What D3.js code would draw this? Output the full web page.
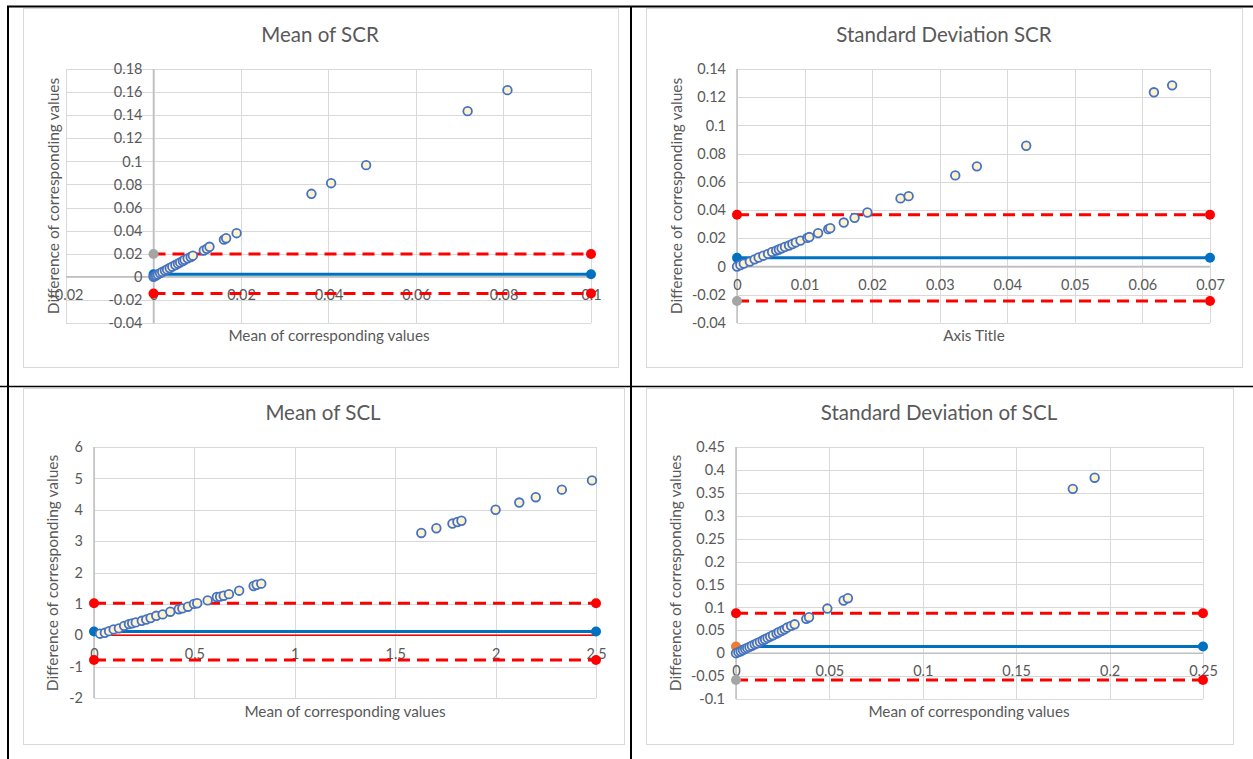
<!DOCTYPE html>
<html>
<head>
<meta charset="utf-8">
<script src="https://cdn.jsdelivr.net/npm/d3@7/dist/d3.min.js"></script>
<style>
  body { margin: 0; background: #fff; }
  svg text { font-family: Lato, "Open Sans", sans-serif; fill: #595959; }
</style>
</head>
<body>
<svg id="chart" width="1253" height="759"></svg>
<script>
// ---------------- data ----------------
const chartTitles = ["Mean of SCR", "Standard Deviation SCR", "Mean of SCL", "Standard Deviation of SCL"];
const xAxisTitles = ["Mean of corresponding values", "Axis Title", "Mean of corresponding values", "Mean of corresponding values"];
const yAxisTitle = "Difference of corresponding values";

// Mean of SCR
const scrMeanX = [0, 0.0003, 0.0006, 0.001, 0.0015, 0.002, 0.0026, 0.0031, 0.0037, 0.0043, 0.005, 0.0056, 0.0061,
  0.0067, 0.0071, 0.0078, 0.0085, 0.009, 0.0115, 0.0122, 0.0128, 0.0161, 0.0166, 0.019, 0.0361, 0.0406, 0.0486, 0.0718, 0.0809];
const scrMeanY = [0, 0.0006, 0.0013, 0.0021, 0.0032, 0.0042, 0.0054, 0.0064, 0.0076, 0.0088, 0.0102, 0.0114, 0.0125,
  0.0137, 0.0147, 0.016, 0.0172, 0.0183, 0.0228, 0.0243, 0.026, 0.0322, 0.0334, 0.0378, 0.0719, 0.0811, 0.0967, 0.1435, 0.1617];
const scrMeanLimits = [-0.0144, 0.0023, 0.0197];   // lower limit, mean difference, upper limit
const scrMeanXTicks = [-0.02, 0, 0.02, 0.04, 0.06, 0.08, 0.1];
const scrMeanYTicks = [-0.04, -0.02, 0, 0.02, 0.04, 0.06, 0.08, 0.1, 0.12, 0.14, 0.16, 0.18];

// Standard deviation of SCR
const scrSdX = [0, 0.0005, 0.001, 0.0019, 0.0026, 0.0032, 0.0039, 0.0046, 0.0052, 0.0058, 0.0062, 0.0066, 0.0071,
  0.0077, 0.0082, 0.0087, 0.0094, 0.0104, 0.0107, 0.012, 0.0135, 0.0138, 0.0158, 0.0174, 0.0193, 0.0242, 0.0254,
  0.0323, 0.0355, 0.0428, 0.0617, 0.0644];
const scrSdY = [0, 0.0011, 0.0021, 0.0035, 0.0051, 0.0064, 0.0077, 0.009, 0.0103, 0.0113, 0.0121, 0.0129, 0.0139,
  0.0149, 0.016, 0.0171, 0.0184, 0.0203, 0.0209, 0.0237, 0.0265, 0.0272, 0.0312, 0.0345, 0.0383, 0.0483, 0.0499,
  0.0646, 0.071, 0.0856, 0.1235, 0.1284];
const scrSdLimits = [-0.0244, 0.0062, 0.0367];
const scrSdXTicks = [0, 0.01, 0.02, 0.03, 0.04, 0.05, 0.06, 0.07];
const scrSdYTicks = [-0.04, -0.02, 0, 0.02, 0.04, 0.06, 0.08, 0.1, 0.12, 0.14];

// Mean of SCL
const sclMeanX = [0.03, 0.054, 0.075, 0.098, 0.124, 0.15, 0.174, 0.19, 0.208, 0.238, 0.26, 0.282, 0.31, 0.342, 0.38,
  0.422, 0.44, 0.468, 0.498, 0.514, 0.566, 0.612, 0.628, 0.646, 0.672, 0.723, 0.795, 0.81, 0.833,
  1.63, 1.705, 1.785, 1.81, 1.83, 2.0, 2.118, 2.2, 2.33, 2.48];
const sclMeanY = [0.05, 0.078, 0.13, 0.186, 0.22, 0.3, 0.355, 0.38, 0.41, 0.46, 0.5, 0.55, 0.62, 0.665, 0.75,
  0.83, 0.855, 0.91, 1.0, 1.02, 1.11, 1.22, 1.23, 1.26, 1.31, 1.42, 1.57, 1.61, 1.644,
  3.26, 3.41, 3.56, 3.61, 3.65, 4.0, 4.23, 4.4, 4.64, 4.935];
const sclMeanLimits = [-0.79, 0.12, 1.02];
const sclMeanXTicks = [0, 0.5, 1, 1.5, 2, 2.5];
const sclMeanYTicks = [-2, -1, 0, 1, 2, 3, 4, 5, 6];

// Standard deviation of SCL
const sclSdX = [0, 0.0013, 0.0025, 0.0037, 0.0049, 0.006, 0.0072, 0.0085, 0.01, 0.0113, 0.0128, 0.0143, 0.0155,
  0.0169, 0.0183, 0.0198, 0.0217, 0.0229, 0.0245, 0.026, 0.0274, 0.0295, 0.0314, 0.0376, 0.0391, 0.0489, 0.0576,
  0.0599, 0.1803, 0.192];
const sclSdY = [0, 0.0022, 0.0042, 0.0068, 0.0093, 0.0115, 0.0137, 0.0163, 0.0193, 0.0217, 0.0247, 0.0277, 0.0304,
  0.0333, 0.0362, 0.0392, 0.0428, 0.0457, 0.0488, 0.052, 0.0559, 0.0596, 0.063, 0.0749, 0.0785, 0.0974, 0.115,
  0.12, 0.3587, 0.383];
const sclSdLimits = [-0.0584, 0.0144, 0.0872];
const sclSdXTicks = [0, 0.05, 0.1, 0.15, 0.2, 0.25];
const sclSdYTicks = [-0.1, -0.05, 0, 0.05, 0.1, 0.15, 0.2, 0.25, 0.3, 0.35, 0.4, 0.45];

// colour of the marker at the x = 0 end of each reference line: [lower, mean, upper]
const startMarkerColors = [
  ["#ff0000", "#0070c0", "#a5a5a5"],
  ["#a5a5a5", "#0070c0", "#ff0000"],
  ["#ff0000", "#0070c0", "#ff0000"],
  ["#a5a5a5", "#ed7d31", "#ff0000"]
];

// ---------------- layout ----------------
const panels = [
  { x: scrMeanX, y: scrMeanY, lim: scrMeanLimits, xt: scrMeanXTicks, yt: scrMeanYTicks,
    frame: [23, 8, 618, 367], px: [66, 591], py: [323, 69], title: [320, 37], xTitle: [329, 337], yTitle: [55, 196] },
  { x: scrSdX, y: scrSdY, lim: scrSdLimits, xt: scrSdXTicks, yt: scrSdYTicks,
    frame: [646, 8, 1242, 367], px: [737, 1210], py: [323, 69], title: [944, 37], xTitle: [974, 337], yTitle: [678, 196] },
  { x: sclMeanX, y: sclMeanY, lim: sclMeanLimits, xt: sclMeanXTicks, yt: sclMeanYTicks, zeroLine: true,
    frame: [23, 388, 624, 744], px: [94, 596], py: [698, 447], title: [323, 415], xTitle: [345, 713], yTitle: [54, 573] },
  { x: sclSdX, y: sclSdY, lim: sclSdLimits, xt: sclSdXTicks, yt: sclSdYTicks,
    frame: [646, 388, 1233, 744], px: [736, 1203], py: [699, 447], title: [939, 415], xTitle: [969, 713], yTitle: [677, 573] }
];

const svg = d3.select("#chart");
svg.append("rect").attr("width", 1253).attr("height", 759).attr("fill", "#fff");

const fmt = v => String(+v.toFixed(4));

panels.forEach((p, i) => {
  const g = svg.append("g");
  const [fx0, fy0, fx1, fy1] = p.frame;
  g.append("rect").attr("x", fx0 + 0.5).attr("y", fy0 + 0.5)
    .attr("width", fx1 - fx0).attr("height", fy1 - fy0)
    .attr("fill", "#fff").attr("stroke", "#d9d9d9").attr("stroke-width", 1);

  const xs = d3.scaleLinear().domain(d3.extent(p.xt)).range(p.px);
  const ys = d3.scaleLinear().domain(d3.extent(p.yt)).range(p.py);

  // gridlines
  g.append("g").selectAll("line.h").data(p.yt).join("line")
    .attr("x1", p.px[0]).attr("x2", p.px[1])
    .attr("y1", d => Math.round(ys(d)) + 0.5).attr("y2", d => Math.round(ys(d)) + 0.5)
    .attr("stroke", "#d9d9d9").attr("stroke-width", 1);
  g.append("g").selectAll("line.v").data(p.xt).join("line")
    .attr("y1", p.py[0]).attr("y2", p.py[1])
    .attr("x1", d => Math.round(xs(d)) + 0.5).attr("x2", d => Math.round(xs(d)) + 0.5)
    .attr("stroke", "#d9d9d9").attr("stroke-width", 1);

  // axis lines through the origin
  g.append("line").attr("x1", p.px[0]).attr("x2", p.px[1])
    .attr("y1", ys(0)).attr("y2", ys(0)).attr("stroke", "#bfbfbf").attr("stroke-width", 1.5);
  g.append("line").attr("y1", p.py[0]).attr("y2", p.py[1])
    .attr("x1", xs(0)).attr("x2", xs(0)).attr("stroke", "#bfbfbf").attr("stroke-width", 1.5);

  // tick labels
  const yAxis = g.append("g").attr("transform", `translate(${xs(0)},0)`)
    .call(d3.axisLeft(ys).tickValues(p.yt).tickFormat(fmt).tickSize(0).tickPadding(11));
  const xAxis = g.append("g").attr("transform", `translate(0,${ys(0)})`)
    .call(d3.axisBottom(xs).tickValues(p.xt).tickFormat(fmt).tickSize(0).tickPadding(13));
  [xAxis, yAxis].forEach(a => {
    a.select(".domain").remove();
    a.selectAll("text").attr("font-size", 14.5).attr("fill", "#595959")
      .style("font-family", "Lato, 'Open Sans', sans-serif");
  });

  // reference lines: lower, mean, upper
  const xEnd = d3.max(p.xt);
  if (p.zeroLine) {
    g.append("line").attr("x1", xs(0)).attr("x2", xs(xEnd))
      .attr("y1", ys(0)).attr("y2", ys(0)).attr("stroke", "#ff0000").attr("stroke-width", 1.6);
  }
  p.lim.forEach((v, k) => {
    const isMean = k === 1;
    g.append("line").attr("x1", xs(0)).attr("x2", xs(xEnd))
      .attr("y1", ys(v)).attr("y2", ys(v))
      .attr("stroke", isMean ? "#0070c0" : "#ff0000")
      .attr("stroke-width", 3)
      .attr("stroke-dasharray", isMean ? null : "12,7");
  });
  p.lim.forEach((v, k) => {
    const isMean = k === 1;
    g.append("circle").attr("cx", xs(xEnd)).attr("cy", ys(v)).attr("r", 5)
      .attr("fill", isMean ? "#0070c0" : "#ff0000");
    g.append("circle").attr("cx", xs(0)).attr("cy", ys(v)).attr("r", 5)
      .attr("fill", startMarkerColors[i][k]);
  });

  // scatter points
  g.append("g").selectAll("circle").data(d3.zip(p.x, p.y)).join("circle")
    .attr("cx", d => xs(d[0])).attr("cy", d => ys(d[1])).attr("r", 4.3)
    .attr("fill", "#fff2cc").attr("stroke", "#4472c4").attr("stroke-width", 1.8);

  // titles
  g.append("text").attr("x", p.title[0]).attr("y", p.title[1]).attr("text-anchor", "middle")
    .attr("dominant-baseline", "middle").attr("font-size", 20.5).text(chartTitles[i]);
  g.append("text").attr("x", p.xTitle[0]).attr("y", p.xTitle[1]).attr("text-anchor", "middle")
    .attr("dominant-baseline", "middle").attr("font-size", 15.3).text(xAxisTitles[i]);
  g.append("text").attr("transform", `translate(${p.yTitle[0]},${p.yTitle[1]}) rotate(-90)`)
    .attr("text-anchor", "middle").attr("dominant-baseline", "middle")
    .attr("font-size", 15.5).text(yAxisTitle);
});

// table borders around the four cells
const borders = [
  [7, 6.5, 1253, 6.5, 2],
  [8, 6, 8, 759, 2],
  [631, 6, 631, 759, 2],
  [0, 386.5, 1253, 386.5, 1.6]
];
svg.append("g").selectAll("line").data(borders).join("line")
  .attr("x1", d => d[0]).attr("y1", d => d[1]).attr("x2", d => d[2]).attr("y2", d => d[3])
  .attr("stroke", "#000").attr("stroke-width", d => d[4]);
</script>
</body>
</html>
